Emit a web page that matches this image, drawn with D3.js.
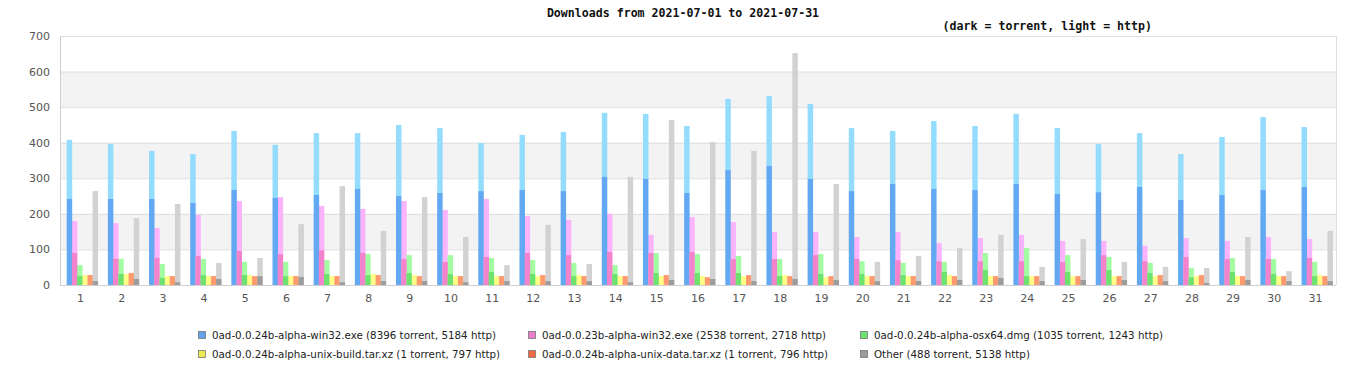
<!DOCTYPE html>
<html><head><meta charset="utf-8">
<script src="https://cdn.jsdelivr.net/npm/d3@7"></script>
<style>
html,body{margin:0;padding:0;background:#fff;}
svg{display:block;}
</style></head>
<body>
<svg id="chart" width="1366" height="380"></svg>
<script>
const days = d3.range(1, 32).map(String);
const seriesNames = [
  "0ad-0.0.24b-alpha-win32.exe (8396 torrent, 5184 http)",
  "0ad-0.0.23b-alpha-win32.exe (2538 torrent, 2718 http)",
  "0ad-0.0.24b-alpha-osx64.dmg (1035 torrent, 1243 http)",
  "0ad-0.0.24b-alpha-unix-build.tar.xz (1 torrent, 797 http)",
  "0ad-0.0.24b-alpha-unix-data.tar.xz (1 torrent, 796 http)",
  "Other (488 torrent, 5138 http)"
];
// per-day totals (torrent + http) and torrent parts
const win24Total = [408,396,377,368,433,394,427,427,450,441,399,422,430,484,481,447,523,531,509,441,433,461,447,481,441,396,427,368,416,472,444];
const win24Torrent = [242,242,242,231,267,245,253,270,250,259,264,267,264,304,298,259,323,335,298,264,284,270,267,284,256,261,276,239,253,267,276];
const win23Total = [180,174,160,197,236,247,222,214,236,211,242,194,183,200,141,191,177,149,149,135,149,118,132,141,124,124,110,132,124,135,129];
const win23Torrent = [90,74,77,82,96,87,98,90,73,65,79,90,84,93,90,93,73,73,84,73,70,67,67,67,65,84,67,79,73,73,76];
const osxTotal = [56,74,59,73,65,65,70,87,84,84,76,70,62,56,90,87,82,73,87,67,62,65,90,104,84,79,62,48,76,73,65];
const osxTorrent = [26,31,20,28,28,25,31,28,34,31,37,31,25,31,34,34,34,25,31,31,28,37,42,25,37,42,34,22,37,31,25];
const buildTotal = [28,31,25,25,28,25,25,31,28,25,25,25,28,25,25,25,25,28,22,25,25,28,25,25,25,25,25,25,25,25,28];
const buildTorrent = [0,0,0,0,0,0,0,0,0,0,0,0,0,0,0,0,0,0,0,0,0,0,0,0,0,0,0,0,0,0,1];
const dataTotal = [28,34,25,25,25,25,25,28,25,25,25,28,25,25,28,22,28,25,25,25,25,25,25,25,25,25,28,28,25,25,25];
const dataTorrent = [0,0,0,0,0,0,0,0,0,0,0,0,0,0,1,0,0,0,0,0,0,0,0,0,0,0,0,0,0,0,0];
const otherTotal = [264,188,228,62,76,171,278,152,247,135,56,169,59,304,464,402,377,652,284,65,82,104,141,51,129,65,51,48,135,39,152];
const otherTorrent = [11,17,8,17,25,23,8,11,11,8,11,11,11,8,14,17,11,17,14,11,11,14,20,11,14,14,11,6,14,11,11];
const yTicks = [0,100,200,300,400,500,600,700];

const totals = [win24Total, win23Total, osxTotal, buildTotal, dataTotal, otherTotal];
const torrents = [win24Torrent, win23Torrent, osxTorrent, buildTorrent, dataTorrent, otherTorrent];
const darkColors = ["#62a8f2","#f383cc","#6ee26e","#f0f040","#ff7040","#9c9c9c"];
const lightColors = ["#94dcfd","#fbb4fc","#a2fca2","#ffff88","#ff9a6e","#d2d2d2"];
const swatchColors = ["#62a2ec","#ec7ccc","#6ee26e","#ecec50","#f06a40","#9c9c9c"];

const svg = d3.select("#chart");
const L = 60, R = 1336, T = 36, B = 285;
const x0 = d3.scaleBand().domain(days).range([L, R]).padding(0);
const bw = x0.bandwidth();
const x1 = d3.scaleBand().domain(d3.range(6)).range([bw*0.163, bw*0.918]).padding(0);
const y = d3.scaleLinear().domain([0, 700]).range([B, T]);

// alternating background bands
const bandStarts = [100, 300, 500];
svg.append("g").selectAll("rect").data(bandStarts).join("rect")
  .attr("x", L).attr("width", R - L)
  .attr("y", d => y(d + 100)).attr("height", d => y(d) - y(d + 100))
  .attr("fill", "#f3f3f3");

// grid lines
svg.append("g").selectAll("line").data(yTicks.filter(d => d > 0)).join("line")
  .attr("x1", L).attr("x2", R)
  .attr("y1", d => y(d) + 0.5).attr("y2", d => y(d) + 0.5)
  .attr("stroke", "#dedede").attr("stroke-width", 1);
// right border
svg.append("line").attr("x1", R + 0.5).attr("x2", R + 0.5).attr("y1", T).attr("y2", B)
  .attr("stroke", "#dedede");

// bars
const barData = [];
days.forEach((d, i) => {
  for (let s = 0; s < 6; s++) {
    barData.push({day: d, s, total: totals[s][i], torrent: torrents[s][i]});
  }
});
const bw1 = x1.bandwidth();
const g = svg.append("g");
g.selectAll("rect.http").data(barData).join("rect").attr("class","http")
  .attr("x", d => x0(d.day) + x1(d.s))
  .attr("width", bw1 + 0.3)
  .attr("y", d => y(d.total))
  .attr("height", d => y(d.torrent) - y(d.total))
  .attr("fill", d => lightColors[d.s]);
g.selectAll("rect.tor").data(barData).join("rect").attr("class","tor")
  .attr("x", d => x0(d.day) + x1(d.s))
  .attr("width", bw1 + 0.3)
  .attr("y", d => y(d.torrent))
  .attr("height", d => y(0) - y(d.torrent))
  .attr("fill", d => darkColors[d.s]);

// axes
const yAxis = d3.axisLeft(y).tickValues(yTicks).tickSize(0).tickPadding(10);
const ya = svg.append("g").attr("transform", `translate(${L},0)`).call(yAxis);
ya.select(".domain").attr("stroke", "#cfcfcf").attr("d", `M0.5,${T}V${B}`);
ya.selectAll("text").attr("font-family", "DejaVu Sans").attr("font-size", 11).attr("fill", "#555");

const xAxis = d3.axisBottom(x0).tickSize(0).tickPadding(9);
const xa = svg.append("g").attr("transform", `translate(0,${B})`).call(xAxis);
xa.select(".domain").attr("stroke", "#cfcfcf").attr("d", `M${L},0.5H${R}`);
xa.selectAll("text").attr("font-family", "DejaVu Sans").attr("font-size", 11).attr("fill", "#555");

// titles
svg.append("text").attr("x", 683).attr("y", 17).attr("text-anchor", "middle")
  .attr("font-family", "DejaVu Sans Mono").attr("font-weight", "bold").attr("font-size", 11.6)
  .attr("fill", "#111").text("Downloads from 2021-07-01 to 2021-07-31");
svg.append("text").attr("x", 1152).attr("y", 30).attr("text-anchor", "end")
  .attr("font-family", "DejaVu Sans Mono").attr("font-weight", "bold").attr("font-size", 11.6)
  .attr("fill", "#111").text("(dark = torrent, light = http)");

// legend
const colX = [198, 528, 860];
const rowY = [335, 354];
const leg = svg.append("g").selectAll("g").data(seriesNames).join("g")
  .attr("transform", (d, i) => `translate(${colX[i % 3]},${rowY[Math.floor(i / 3)]})`);
leg.append("rect").attr("x", 0.5).attr("y", -3.5).attr("width", 7).attr("height", 7)
  .attr("fill", (d, i) => swatchColors[i]).attr("stroke", "#777").attr("stroke-width", 0.8);
leg.append("text").attr("x", 14).attr("y", 4)
  .attr("font-family", "DejaVu Sans").attr("font-size", 10.3).attr("fill", "#222").text(d => d);
</script>
</body></html>
